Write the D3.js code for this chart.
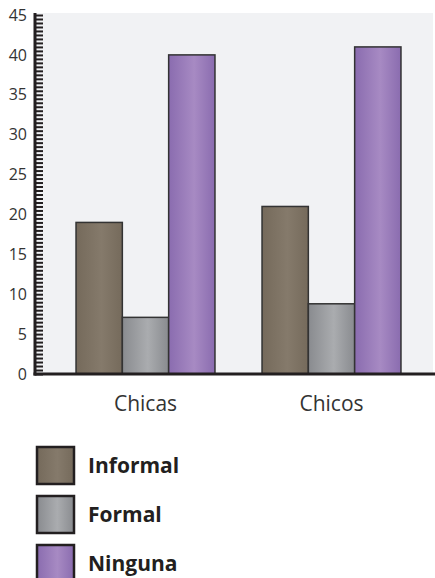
<!DOCTYPE html>
<html><head><meta charset="utf-8">
<script src="https://cdn.jsdelivr.net/npm/d3@7/dist/d3.min.js"></script>
<style>
html,body{margin:0;padding:0;background:#fff;}
svg{display:block;}
</style></head>
<body>
<script>
const groups = ["Chicas", "Chicos"];
const seriesNames = ["Informal", "Formal", "Ninguna"];
const informal = [19.0, 21.0];
const formal = [7.1, 8.8];
const ninguna = [40.0, 41.0];
const yTicks = [0, 5, 10, 15, 20, 25, 30, 35, 40, 45];

const seriesValues = [informal, formal, ninguna];
const colors = [
  {edge: "#756a5b", mid: "#857a6b"},
  {edge: "#898b8f", mid: "#aaacaf"},
  {edge: "#8a6caf", mid: "#a78ac3"}
];

const W = 435, H = 578;
const svg = d3.select("body").append("svg").attr("width", W).attr("height", H);
const defs = svg.append("defs");
colors.forEach((c, i) => {
  const g = defs.append("linearGradient").attr("id", "g" + i)
    .attr("x1", "0%").attr("x2", "100%").attr("y1", "0%").attr("y2", "0%");
  g.append("stop").attr("offset", "0%").attr("stop-color", c.edge);
  g.append("stop").attr("offset", "55%").attr("stop-color", c.mid);
  g.append("stop").attr("offset", "100%").attr("stop-color", c.edge);
});

const axisX = 35, plotTop = 13, base = 374;
const y = d3.scaleLinear().domain([0, 45]).range([base, 15]);
const x0 = d3.scaleBand().domain(groups).range([52.5, 424.5]).paddingInner(0.253).paddingOuter(0.1265);
const x1 = d3.scaleBand().domain(seriesNames).range([0, x0.bandwidth()]).padding(0);

// background
svg.append("rect").attr("x", axisX).attr("y", plotTop).attr("width", W - axisX - 2).attr("height", base - plotTop)
  .attr("fill", "#f1f2f4");

// bars
const gBars = svg.append("g");
groups.forEach((grp, gi) => {
  seriesNames.forEach((s, si) => {
    const v = seriesValues[si][gi];
    gBars.append("rect")
      .attr("x", x0(grp) + x1(s))
      .attr("y", y(v))
      .attr("width", x1.bandwidth())
      .attr("height", y(0) - y(v))
      .attr("fill", "url(#g" + si + ")")
      .attr("stroke", "#333")
      .attr("stroke-width", 1.5);
  });
});

// minor ticks
const minor = svg.append("g").attr("transform", `translate(${axisX},0)`)
  .call(d3.axisLeft(y).tickValues(d3.range(0, 45.01, 0.5)).tickSize(-8).tickFormat(""));
minor.select(".domain").remove();
minor.selectAll("line").attr("stroke", "#231f20").attr("stroke-width", 2);

// major tick labels
const major = svg.append("g").attr("transform", `translate(${axisX},0)`)
  .call(d3.axisLeft(y).tickValues(yTicks).tickSize(0).tickPadding(8));
major.select(".domain").remove();
major.selectAll("text").attr("font-family", "Open Sans").attr("font-size", 16).attr("fill", "#333");

// axis lines
svg.append("line").attr("x1", axisX).attr("x2", axisX).attr("y1", plotTop).attr("y2", base + 1.5)
  .attr("stroke", "#231f20").attr("stroke-width", 3);
svg.append("line").attr("x1", axisX - 1.5).attr("x2", W).attr("y1", base).attr("y2", base)
  .attr("stroke", "#231f20").attr("stroke-width", 3);

// x labels
const xa = svg.append("g").attr("transform", `translate(0,${base})`)
  .call(d3.axisBottom(x0).tickSize(0).tickPadding(22));
xa.select(".domain").remove();
xa.selectAll("text").attr("font-family", "Open Sans").attr("font-size", 21).attr("fill", "#333");

// legend
const leg = svg.append("g");
seriesNames.forEach((s, i) => {
  const yy = 447 + i * 49;
  leg.append("rect").attr("x", 37).attr("y", yy).attr("width", 37).attr("height", 37)
    .attr("fill", "url(#g" + i + ")").attr("stroke", "#231f20").attr("stroke-width", 2.5);
  leg.append("text").attr("x", 88).attr("y", yy + 18.5).attr("dy", "0.35em")
    .attr("font-family", "Open Sans").attr("font-weight", "bold").attr("font-size", 21)
    .attr("fill", "#231f20").text(s);
});
</script>
</body></html>
